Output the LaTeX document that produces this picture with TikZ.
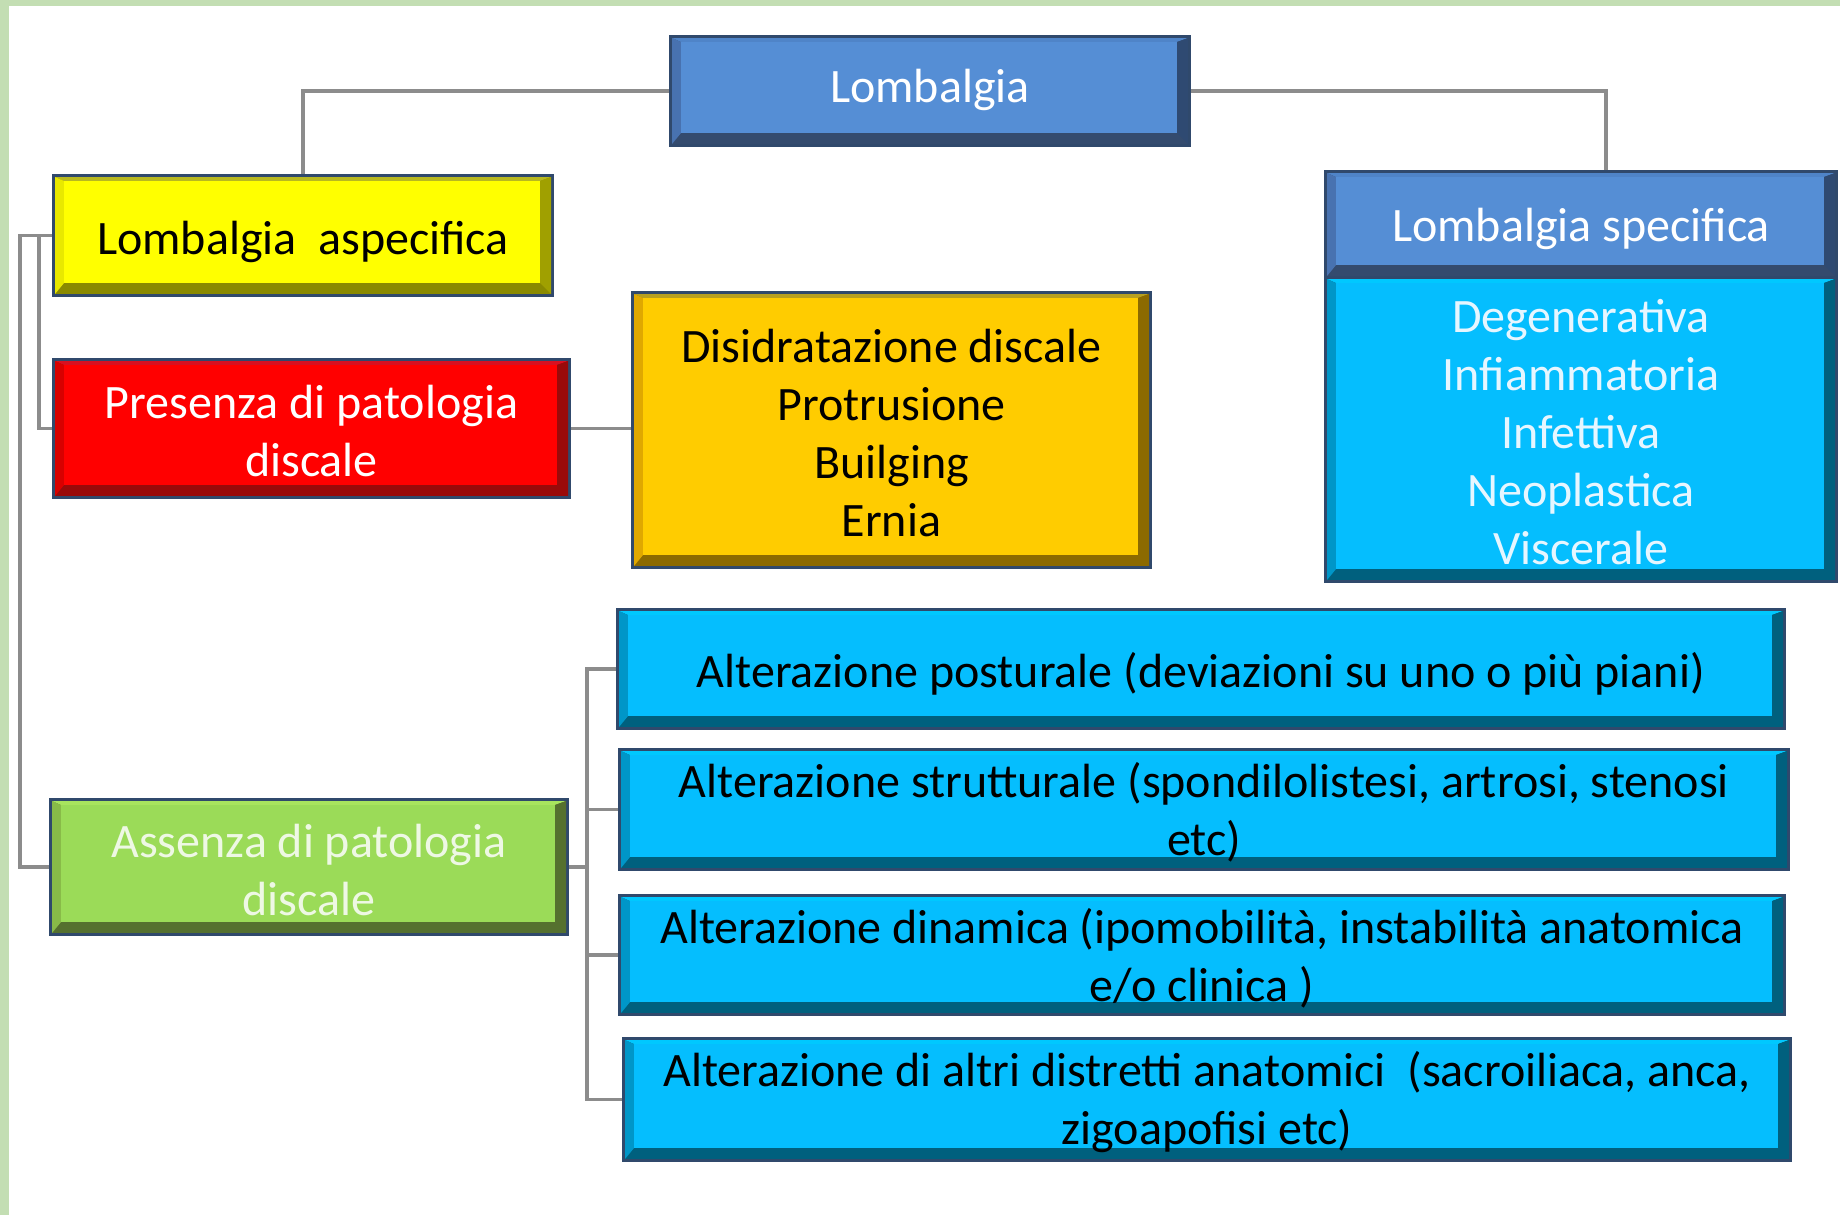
\documentclass[tikz,border=0pt]{standalone}
\usepackage{fontspec}
\setmainfont{Carlito}
\usetikzlibrary{calc}
\definecolor{frame}{HTML}{C3DEB3}
\definecolor{bordc}{HTML}{30496C}
\definecolor{connc}{HTML}{8C8C8C}
% blue
\definecolor{bluF}{HTML}{558ED5}\definecolor{bluT}{HTML}{4F84C8}\definecolor{bluS}{HTML}{4872B0}
\definecolor{bluB}{HTML}{344B6E}\definecolor{bluR}{HTML}{2F4A72}
% yellow
\definecolor{yelF}{HTML}{FFFF00}\definecolor{yelT}{HTML}{B8B820}\definecolor{yelS}{HTML}{E8E800}
\definecolor{yelB}{HTML}{8A8A00}\definecolor{yelR}{HTML}{A0A000}
% red
\definecolor{redF}{HTML}{FF0000}\definecolor{redT}{HTML}{D81020}\definecolor{redS}{HTML}{D80000}
\definecolor{redB}{HTML}{990A0A}\definecolor{redR}{HTML}{990A0A}
% orange
\definecolor{orgF}{HTML}{FFCC00}\definecolor{orgT}{HTML}{B8A020}\definecolor{orgS}{HTML}{E0A800}
\definecolor{orgB}{HTML}{8C6A00}\definecolor{orgR}{HTML}{8C6A00}
% green
\definecolor{grnF}{HTML}{9BDB58}\definecolor{grnT}{HTML}{A8E45E}\definecolor{grnS}{HTML}{88BB48}
\definecolor{grnB}{HTML}{55702F}\definecolor{grnR}{HTML}{55702F}
% cyan
\definecolor{cyaF}{HTML}{05BEFE}\definecolor{cyaT}{HTML}{00C8FF}\definecolor{cyaS}{HTML}{0096C8}
\definecolor{cyaB}{HTML}{00607E}\definecolor{cyaR}{HTML}{00607E}
\definecolor{paletxt}{HTML}{E6F6FF}
\definecolor{greentxt}{HTML}{EEF8E4}

% [#1 text offset] #2 name, #3 x1, #4 y1, #5 x2, #6 y2, #7 colour prefix, #8 text colour, #9 text
\newcommand\bevelbox[9][3]{%
  \fill[bordc] (#3,#4) rectangle (#5,#6);
  \fill[#7B] (#3+3,#4+3) rectangle (#5-3,#6-3);
  \fill[#7T] (#3+3,#4+3) -- (#5-3,#4+3) -- (#5-14,#4+7) -- (#3+12,#4+7) -- cycle;
  \fill[#7S] (#3+3,#4+3) -- (#3+12,#4+7) -- (#3+12,#6-14) -- (#3+3,#6-3) -- cycle;
  \fill[#7R] (#5-3,#4+3) -- (#5-3,#6-3) -- (#5-14,#6-14) -- (#5-14,#4+7) -- cycle;
  \fill[#7F] (#3+12,#4+7) rectangle (#5-14,#6-14);
  \node[boxnode, minimum width={(#5-#3)*0.5pt}, minimum height={(#6-#4)*0.5pt}]
     (#2) at ({(#3+#5)/2},{(#4+#6)/2}) {};
  \node[txt, text=#8] (#2-t) at ({(#3+#5)/2},{(#4+#6)/2+#1}) {#9};
}

\begin{document}
\begin{tikzpicture}[x=0.5pt,y=-0.5pt,
  conn/.style={draw=connc, line width=1.6pt},
  boxnode/.style={rectangle, inner sep=0pt, outer sep=0pt},
  txt/.style={font=\fontsize{24}{29}\selectfont, align=center, inner sep=0pt}]
\useasboundingbox (0,0) rectangle (1840,1215);
\fill[white] (0,0) rectangle (1840,1215);
\fill[frame] (0,0) rectangle (1840,6);
\fill[frame] (0,0) rectangle (9,1215);

\bevelbox[-1]{lomb}{669}{35}{1191}{147}{blu}{white}{Lombalgia}
\bevelbox[6]{asp}{52}{174}{554}{297}{yel}{black}{Lombalgia~ aspecifica}
\bevelbox{pres}{52}{358}{571}{499}{red}{white}{Presenza di patologia\\discale}
\bevelbox{dis}{631}{291}{1152}{569}{org}{black}{Disidratazione discale\\Protrusione\\Builging\\Ernia}
\bevelbox[4]{spec}{1324}{170}{1838}{279}{blu}{white}{Lombalgia specifica}
\bevelbox{speclist}{1324}{276}{1838}{583}{cya}{paletxt}{Degenerativa\\Infiammatoria\\Infettiva\\Neoplastica\\Viscerale}
\bevelbox{ass}{49}{798}{569}{936}{grn}{greentxt}{Assenza di patologia\\discale}
\bevelbox[5]{alta}{616}{608}{1786}{730}{cya}{black}{Alterazione posturale (deviazioni su uno o più piani)}
\bevelbox{altb}{618}{748}{1790}{871}{cya}{black}{Alterazione strutturale (spondilolistesi, artrosi, stenosi\\etc)}
\bevelbox{altc}{618}{894}{1786}{1016}{cya}{black}{Alterazione dinamica (ipomobilità, instabilità anatomica\\e/o clinica )}
\bevelbox{altd}{622}{1037}{1792}{1162}{cya}{black}{Alterazione di altri distretti anatomici~ (sacroiliaca, anca,\\zigoapofisi etc)}

% connectors
\draw[conn] (lomb.west) -| (asp.north);
\draw[conn] (lomb.east) -| ([xshift=12.5pt]spec.north);
\draw[conn] (asp.west) -- ++(-32,0) |- (ass.west);
\draw[conn] (asp.west) -- ++(-13,0) |- (pres.west);
\draw[conn] (pres.east) -- (pres.east -| dis.west);
\draw[conn] (ass.east) -- ++(18,0) coordinate (hub);
\draw[conn] (hub) |- (alta.west);
\draw[conn] (hub) |- (altb.west);
\draw[conn] (hub) |- (altc.west);
\draw[conn] (hub) |- (altd.west);
\end{tikzpicture}
\end{document}
